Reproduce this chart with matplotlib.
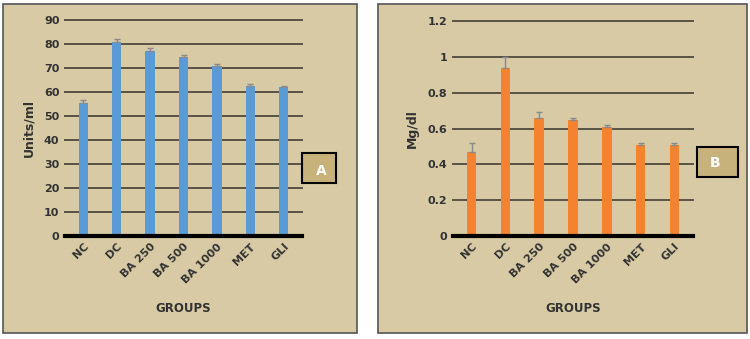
import matplotlib
matplotlib.use("Agg")
import matplotlib.pyplot as plt
from matplotlib.patches import Rectangle

groups = ["NC", "DC", "BA 250", "BA 500", "BA 1000", "MET", "GLI"]
units_ml = [55.5, 81, 77, 74.5, 71, 62.5, 62]
units_err = [1.0, 1.0, 1.3, 1.0, 0.8, 0.8, 0.6]
mg_dl = [0.47, 0.94, 0.66, 0.65, 0.61, 0.51, 0.51]
mg_err = [0.05, 0.06, 0.03, 0.01, 0.01, 0.01, 0.01]
yticks_a = [0, 10, 20, 30, 40, 50, 60, 70, 80, 90]
yticks_b = [0, 0.2, 0.4, 0.6, 0.8, 1, 1.2]

paper = "#d8caa4"
W, H = 750, 339
fig = plt.figure(figsize=(7.5, 3.39), dpi=100)
fig.patch.set_facecolor("white")


def fx(px):
    return px / W


def fy(py):
    return 1 - py / H


def box(x0, y0, x1, y1, face, edge, lw, z):
    fig.patches.append(Rectangle((fx(x0), fy(y1)), (x1 - x0) / W, (y1 - y0) / H,
                                 transform=fig.transFigure, facecolor=face,
                                 edgecolor=edge, linewidth=lw, zorder=z))


# panel backgrounds with border
box(3, 4, 357, 333, paper, "#555555", 1.2, -2)
box(378, 4, 747, 333, paper, "#555555", 1.2, -2)


def panel(rect, vals, errs, ticks, ylim, color, ylabel, fmt):
    ax = fig.add_axes(rect)
    ax.set_zorder(2)
    ax.set_facecolor("none")
    x = list(range(len(groups)))
    # only the upper half of the error bar is shown
    ax.bar(x, vals, width=0.28, color=color, zorder=3,
           yerr=[[0] * len(errs), errs],
           error_kw=dict(ecolor="#8a8a8a", elinewidth=1, capsize=2, capthick=1))
    ax.set_ylim(*ylim)
    ax.set_xlim(-0.55, len(groups) - 0.45)
    ax.set_yticks(ticks)
    ax.set_yticklabels([fmt(t) for t in ticks], fontsize=8, fontweight="bold", color="#333333")
    ax.yaxis.grid(True, color="#5a5244", linewidth=1.4, zorder=1)
    for gl in ax.get_ygridlines():
        gl.set_clip_on(False)
    ax.set_axisbelow(True)
    for s in ["top", "right", "left"]:
        ax.spines[s].set_visible(False)
    ax.spines["bottom"].set_linewidth(3)
    ax.spines["bottom"].set_color("black")
    ax.spines["bottom"].set_zorder(4)
    ax.tick_params(axis="both", length=0, pad=4)
    ax.set_xticks(x)
    ax.set_xticklabels(groups, rotation=45, ha="right", rotation_mode="anchor",
                       fontsize=8, fontweight="bold", color="#333333")
    ax.set_ylabel(ylabel, fontsize=9, fontweight="bold", color="#333333", labelpad=6)
    ax.set_xlabel("GROUPS", fontsize=8.5, fontweight="bold", color="#333333", labelpad=12)
    return ax


ax_a = panel([fx(65), fy(236), (302 - 65) / W, (236 - 20) / H], units_ml, units_err,
             yticks_a, (0, 90), "#5b9bd5", "Units/ml", lambda t: str(t))
ax_b = panel([fx(453), fy(236), (693 - 453) / W, (236 - 21) / H], mg_dl, mg_err,
             yticks_b, (0, 1.2), "#f5822e", "Mg/dl", lambda t: f"{t:g}")

# letter boxes
box(302, 153, 336, 183, "#c8b27c", "black", 1.5, 5)
box(697, 147, 738, 177, "#c8b27c", "black", 1.5, 5)
fig.text(fx(321), fy(171), "A", color="white", fontsize=10, fontweight="bold",
         ha="center", va="center", zorder=6)
fig.text(fx(715), fy(163), "B", color="white", fontsize=10, fontweight="bold",
         ha="center", va="center", zorder=6)

fig.savefig("out.png", dpi=100, facecolor=fig.get_facecolor())
